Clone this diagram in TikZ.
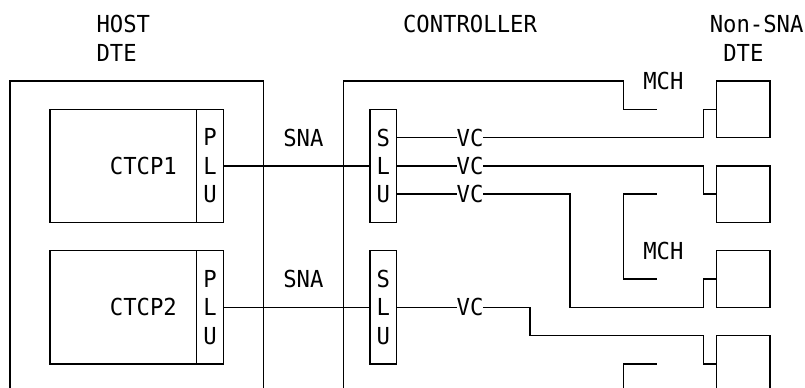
\documentclass[tikz,border=0pt]{standalone}
\usepackage{fontspec}
\newfontfamily\ibmfont[FakeStretch=0.95]{DejaVu Sans Mono}
\usepackage{tikz}
\usetikzlibrary{positioning, calc}
\tikzstyle{box} = [rectangle, draw=black, line width=0.7pt, inner sep=0pt, outer sep=0pt]
\tikzstyle{ctcpbox} = [box, minimum width=73.33pt, minimum height=56.6pt]
\tikzstyle{lubox} = [box, minimum width=13.33pt, minimum height=56.6pt,
    align=center, font=\ibmfont\fontsize{11.7}{14.15}\selectfont]
\tikzstyle{dtebox} = [box, minimum width=26.67pt, minimum height=28.3pt]
\tikzstyle{txt} = [inner sep=0pt, outer sep=0pt, text height=8.53pt, text depth=0pt,
    font=\ibmfont\fontsize{11.7}{14.15}\selectfont]
\tikzstyle{vclabel} = [txt, minimum width=13.33pt]
\tikzstyle{wire} = [draw=black, line width=0.7pt]

\begin{document}
\begin{tikzpicture}[x=6.6667pt, y=-14.15pt]
  \useasboundingbox (-0.75,-2.862) rectangle (59.625,10.848);

  % Headings
  \node[txt] (hosthd) at (8.5,-2) {HOST};
  \node[txt] (hostdte) at (8,-1) {DTE};
  \node[txt] (ctrlhd) at (34.5,-2) {CONTROLLER};
  \node[txt] (nonsnahd) at (56,-2) {Non-SNA};
  \node[txt] (nonsnadte) at (55,-1) {DTE};

  % Host and controller frames (open at the bottom)
  \draw[wire] (0,10.85) |- (19,0) -- (19,10.85);
  \draw[wire] (25,10.85) |- (46,0) |- (48.5,1);
  \node[txt] (mch1) at (49,0) {MCH};

  % Host applications with their PLUs
  \node[ctcpbox] (ctcp1) at (8.5,3) {};
  \node[lubox, right=0pt of ctcp1] (plu1) {P\\L\\U};
  \node[txt] (ctcp1lbl) at (10,3) {CTCP1};
  \node[ctcpbox] (ctcp2) at (8.5,8) {};
  \node[lubox, right=0pt of ctcp2] (plu2) {P\\L\\U};
  \node[txt] (ctcp2lbl) at (10,8) {CTCP2};

  % SLUs in the controller
  \node[lubox] (slu1) at (28,3) {S\\L\\U};
  \node[lubox] (slu2) at (28,8) {S\\L\\U};

  % SNA sessions
  \draw[wire] (plu1.east) -- (slu1.west);
  \draw[wire] (plu2.east) -- (slu2.west);
  \node[txt] (sna1) at (22,2) {SNA};
  \node[txt] (sna2) at (22,7) {SNA};

  % Non-SNA DTEs
  \node[dtebox] (dte1) at (55,1) {};
  \node[dtebox] (dte2) at (55,4) {};
  \node[dtebox] (dte3) at (55,7) {};
  \draw[wire] (53,10.85) |- (57,9) -- (57,10.85);
  \coordinate (dte4w) at (53,10);

  % Virtual circuits
  \node[vclabel] (vc1) at (34.5,2) {VC};
  \node[vclabel] (vc2) at (34.5,3) {VC};
  \node[vclabel] (vc3) at (34.5,4) {VC};
  \node[vclabel] (vc4) at (34.5,8) {VC};
  \draw[wire] (slu1.east |- vc1) -- (vc1.west);
  \draw[wire] (slu1.east |- vc2) -- (vc2.west);
  \draw[wire] (slu1.east |- vc3) -- (vc3.west);
  \draw[wire] (slu2.east |- vc4) -- (vc4.west);
  \draw[wire] (vc1.east) -| ($(dte1.west)+(-1,0)$) -- (dte1.west);
  \draw[wire] (vc2.east) -| ($(dte2.west)+(-1,0)$) -- (dte2.west);
  \draw[wire] (vc3.east) -| (42,8) -| ($(dte3.west)+(-1,0)$) -- (dte3.west);
  \draw[wire] (vc4.east) -| (39,9) -| ($(dte4w)+(-1,0)$) -- (dte4w);

  % MCH brackets
  \draw[wire] (48.5,4) -| (46,7) -- (48.5,7);
  \node[txt] (mch2) at (49,6) {MCH};
  \draw[wire] (48.5,10) -| (46,10.85);
\end{tikzpicture}
\end{document}
